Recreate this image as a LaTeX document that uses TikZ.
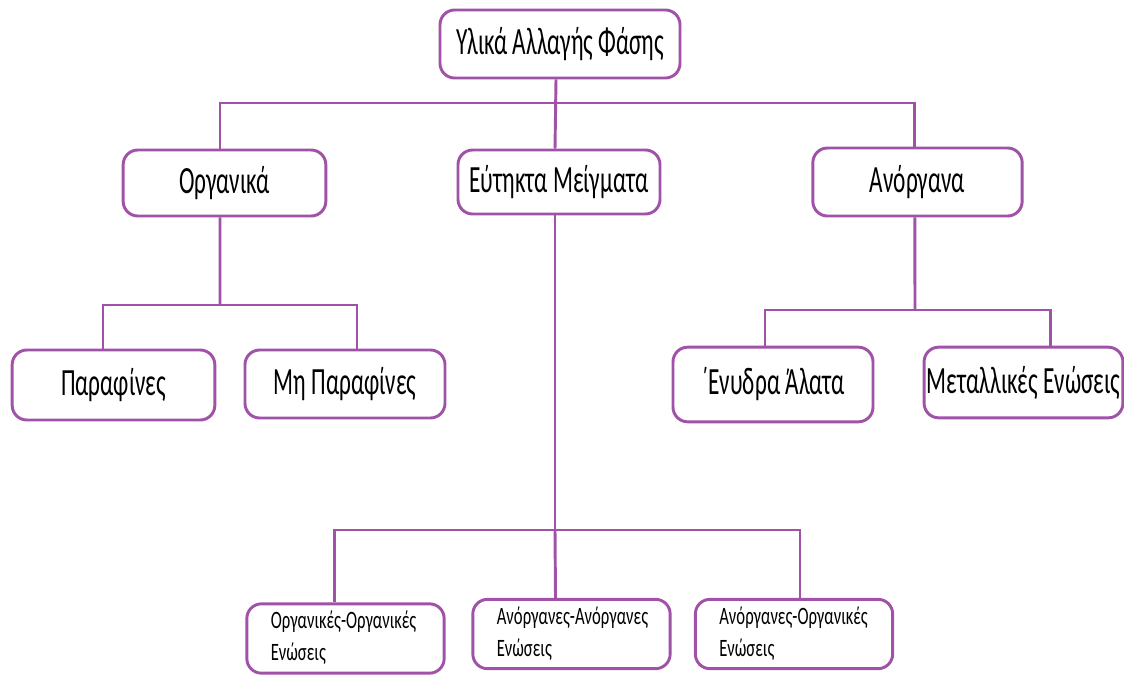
\documentclass[tikz,border=0pt]{standalone}
\usepackage{fontspec}
\usepackage{graphicx}
\setmainfont{Carlito}
\definecolor{lila}{RGB}{160,82,168}
\newcommand{\tall}[1]{\scalebox{1}[1.65]{#1}}
\newcommand{\twolines}[2]{\scalebox{1}[1.5]{\begin{tabular}{@{}l@{}}#1\\[0pt]#2\end{tabular}}}
\tikzset{
  box/.style={draw=lila, line width=2.2pt, rounded corners=11pt, fill=white,
    inner sep=2pt, font=\fontsize{17.5}{21}\selectfont},
  smallbox/.style={box, align=left, text width=112pt, inner xsep=18pt,
    minimum height=50pt, font=\fontsize{12.5}{16}\selectfont},
  link/.style={draw=lila, line width=2.2pt}
}
\begin{document}
\begin{tikzpicture}[x=0.75pt,y=-0.75pt]
	\useasboundingbox (0,0) rectangle (1124,675);
	% top level
	\node[box, minimum width=180pt, minimum height=51pt] (top) at (560,44) {\tall{Υλικά Αλλαγής Φάσης}};
	\node[box, minimum width=152pt, minimum height=49.5pt] (org) at (224.5,183) {\tall{Οργανικά}};
	\node[box, minimum width=151.5pt, minimum height=48pt] (eut) at (559,182) {\tall{Εύτηκτα Μείγματα}};
	\node[box, minimum width=157pt, minimum height=51pt] (ano) at (917.5,182) {\tall{Ανόργανα}};
	% second level
	\node[box, minimum width=152pt, minimum height=52.5pt] (par) at (113.5,385) {\tall{Παραφίνες}};
	\node[box, minimum width=150pt, minimum height=51pt] (mh) at (345,384) {\tall{Μη Παραφίνες}};
	\node[box, minimum width=150pt, minimum height=56pt] (eny) at (773,384.5) {\tall{΄Ενυδρα Άλατα}};
	\node[box, minimum width=148pt, minimum height=53pt] (met) at (1023.5,382.5) {\tall{Μεταλλικές Ενώσεις}};
	% bottom level
	\node[smallbox] (oo) at (345.5,638.5) {\twolines{Οργανικές-Οργανικές}{Ενώσεις}};
	\node[smallbox] (aa) at (571.5,634) {\twolines{Ανόργανες-Ανόργανες}{Ενώσεις}};
	\node[smallbox] (ao) at (794,634) {\twolines{Ανόργανες-Οργανικές}{Ενώσεις}};
	% junctions
	\coordinate (jt) at (556,103);
	\coordinate (jo) at (220,305);
	\coordinate (ja) at (915,310);
	\coordinate (je) at (555,530);
	% connectors
	\draw[link] ([xshift=-3pt]top.south) -- ([xshift=-3pt]eut.north);
	\draw[link] ([xshift=-3.4pt]org.north) |- (jt) -| ([xshift=-2pt]ano.north);
	\draw[link] ([xshift=-3.4pt]org.south) -- (jo);
	\draw[link] ([xshift=-7.9pt]par.north) |- (jo) -| ([xshift=9pt]mh.north);
	\draw[link] ([xshift=-2pt]ano.south) -- (ja);
	\draw[link] ([xshift=-6pt]eny.north) |- (ja) -| ([xshift=20pt]met.north);
	\draw[link] ([xshift=-3pt]eut.south) -- (je);
	\draw[link] ([xshift=-8pt]oo.north) |- (je) -| ([xshift=4.5pt]ao.north);
	\draw[link] (je) -- ([xshift=-12pt]aa.north);
\end{tikzpicture}
\end{document}
